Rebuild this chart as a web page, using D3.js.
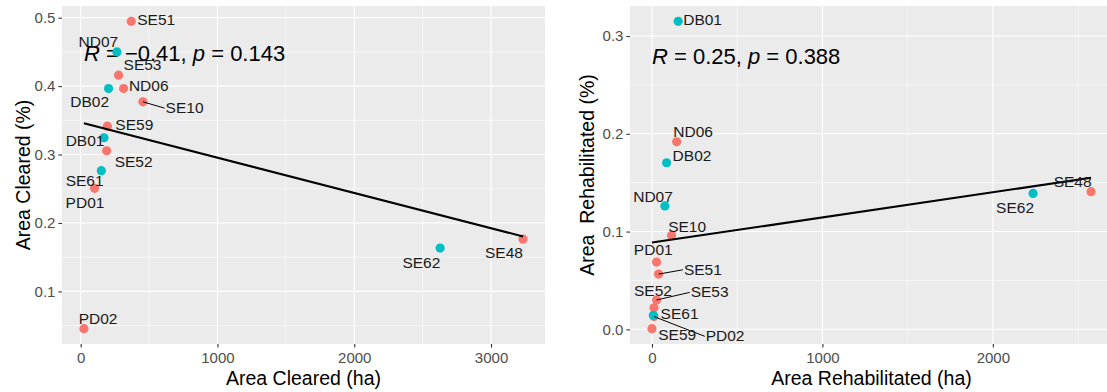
<!DOCTYPE html>
<html>
<head>
<meta charset="utf-8">
<script src="https://cdn.jsdelivr.net/npm/d3@7"></script>
<style>
  body { margin: 0; background: #fff; }
  svg { display: block; }
  text { font-family: "Liberation Sans", Arial, sans-serif; }
</style>
</head>
<body>
<svg id="chart" width="1107" height="392"></svg>
<script>
// ---- data -------------------------------------------------------------
const sites      = ["DB01","DB02","ND06","ND07","PD01","PD02","SE10","SE48","SE51","SE52","SE53","SE59","SE61","SE62"];
const siteGroup  = ["B",   "B",   "A",   "B",   "A",   "A",   "A",   "A",   "A",   "A",   "A",   "A",   "B",   "B"];

// area cleared: hectares and percent of site
const clearedHa  = [170, 204, 314, 265, 102, 24, 455, 3234, 370, 190, 277, 195, 151, 2628];
const clearedPct = [0.3245, 0.3965, 0.3965, 0.450, 0.2507, 0.0456, 0.377, 0.1764, 0.4946, 0.3055, 0.416, 0.3415, 0.2764, 0.1633];

// area rehabilitated: hectares and percent of site
const rehabHa    = [154, 86, 145, 76, 27, 12, 115, 2576, 39, 12, 27, 0, 8, 2236];
const rehabPct   = [0.315, 0.1704, 0.1918, 0.1262, 0.0688, 0.013, 0.0959, 0.1408, 0.0565, 0.022, 0.030, 0.0007, 0.0143, 0.139];

// axis breaks
const clearedXTicks = [0, 1000, 2000, 3000];
const clearedYTicks = [0.1, 0.2, 0.3, 0.4, 0.5];
const rehabXTicks   = [0, 1000, 2000];
const rehabYTicks   = [0.0, 0.1, 0.2, 0.3];

// correlation annotations
const clearedStats = { r: "\u22120.41", p: "0.143" };
const rehabStats   = { r: "0.25",       p: "0.388" };

// ---- label placement (pixel nudges from each point) --------------------
const clearedLabelNudge = {
  SE51: [6, 4], ND07: [-38.3, -5], SE53: [5, -4.7], ND06: [5.3, 2.4], DB02: [-38.3, 18.4],
  SE10: [22.7, 11.3], SE59: [8, 4], DB01: [-38.3, 8], SE52: [8, 16], SE61: [-35.7, 15.3],
  PD01: [-29, 19.4], PD02: [-5.3, -5], SE62: [-37.7, 20], SE48: [-38, 19]
};
const clearedSegments = ["SE10"];

const rehabLabelNudge = {
  DB01: [5, 3.3], ND06: [-3.4, -5], DB02: [6, -1.7], ND07: [-31.7, -4.3], SE10: [-3.4, -4],
  PD01: [-22.7, -7.3], SE51: [25.3, 0.7], SE52: [-20, -11.4], SE53: [34.1, -2.6],
  SE61: [7.3, 3.6], SE59: [6.3, 11.7], PD02: [51.7, 24.7], SE62: [-37, 20], SE48: [-37.4, -5]
};
const rehabSegments = ["SE51", "SE53", "PD02"];

// ---- styling -----------------------------------------------------------
const groupColour = { A: "#F8766D", B: "#00BFC4" };
const panelBg = "#EBEBEB";

const svg = d3.select("#chart");

function expandedExtent(values) {
  const [lo, hi] = d3.extent(values);
  const pad = (hi - lo) * 0.05;
  return [lo - pad, hi + pad];
}

function minorBreaks(major, domain) {
  const step = major[1] - major[0];
  const out = [];
  for (let i = -1; i < major.length; i++) {
    const v = (i < 0 ? major[0] - step : major[i]) + step / 2;
    if (v > domain[0] && v < domain[1]) out.push(v);
  }
  return out;
}

function drawPanel(cfg) {
  const { x0, x1, y0, y1, xs, ys, xTicks, yTicks, xFmt, yFmt,
          xTitle, yTitle, yTitleX, stats, statsY, nudge, segments } = cfg;

  const x = d3.scaleLinear().domain(expandedExtent(xs)).range([x0, x1]);
  const y = d3.scaleLinear().domain(expandedExtent(ys)).range([y1, y0]);

  const g = svg.append("g");

  // panel background
  g.append("rect")
    .attr("x", x0).attr("y", y0)
    .attr("width", x1 - x0).attr("height", y1 - y0)
    .attr("fill", panelBg);

  // minor grid
  const gx = minorBreaks(xTicks, x.domain());
  const gy = minorBreaks(yTicks, y.domain());
  g.selectAll(".vminor").data(gx).join("line")
    .attr("x1", d => x(d)).attr("x2", d => x(d))
    .attr("y1", y0).attr("y2", y1)
    .attr("stroke", "#fff").attr("stroke-width", 0.55);
  g.selectAll(".hminor").data(gy).join("line")
    .attr("y1", d => y(d)).attr("y2", d => y(d))
    .attr("x1", x0).attr("x2", x1)
    .attr("stroke", "#fff").attr("stroke-width", 0.55);

  // major grid
  g.selectAll(".vmajor").data(xTicks).join("line")
    .attr("x1", d => x(d)).attr("x2", d => x(d))
    .attr("y1", y0).attr("y2", y1)
    .attr("stroke", "#fff").attr("stroke-width", 1.1);
  g.selectAll(".hmajor").data(yTicks).join("line")
    .attr("y1", d => y(d)).attr("y2", d => y(d))
    .attr("x1", x0).attr("x2", x1)
    .attr("stroke", "#fff").attr("stroke-width", 1.1);

  // axes
  const ax = g.append("g").attr("transform", `translate(0,${y1})`)
    .call(d3.axisBottom(x).tickValues(xTicks).tickFormat(xFmt).tickSize(3.6).tickPadding(4.3));
  const ay = g.append("g").attr("transform", `translate(${x0},0)`)
    .call(d3.axisLeft(y).tickValues(yTicks).tickFormat(yFmt).tickSize(3.6).tickPadding(3));
  [ax, ay].forEach(a => {
    a.select(".domain").remove();
    a.selectAll(".tick line").attr("stroke", "#333333").attr("stroke-width", 1.1);
    a.selectAll(".tick text")
      .attr("fill", "#4D4D4D")
      .style("font-size", "15px")
      .style("font-family", '"Liberation Sans", Arial, sans-serif');
  });

  // axis titles
  g.append("text")
    .attr("x", (x0 + x1) / 2).attr("y", 384.5)
    .attr("text-anchor", "middle")
    .style("font-size", "19.5px").attr("fill", "#000")
    .text(xTitle);
  g.append("text")
    .attr("transform", `translate(${yTitleX},${(y0 + y1) / 2}) rotate(-90)`)
    .attr("text-anchor", "middle")
    .style("font-size", "19.5px").style("white-space", "pre").attr("fill", "#000")
    .text(yTitle);

  // correlation annotation, anchored at the smallest x value
  const st = g.append("text")
    .attr("x", x(d3.min(xs))).attr("y", statsY)
    .style("font-size", "22px").attr("fill", "#000")
    .style("white-space", "pre");
  st.append("tspan").style("font-style", "italic").text("R");
  st.append("tspan").text(` = ${stats.r}, `);
  st.append("tspan").style("font-style", "italic").text("p");
  st.append("tspan").text(` = ${stats.p}`);

  const rows = sites.map((s, i) => ({ site: s, grp: siteGroup[i], vx: xs[i], vy: ys[i] }));

  // points
  g.selectAll(".pt").data(rows).join("circle")
    .attr("cx", d => x(d.vx)).attr("cy", d => y(d.vy))
    .attr("r", 4.6)
    .attr("fill", d => groupColour[d.grp]);

  // least-squares fit over the observed x range
  const mx = d3.mean(xs), my = d3.mean(ys);
  const sxy = d3.sum(xs, (v, i) => (v - mx) * (ys[i] - my));
  const sxx = d3.sum(xs, v => (v - mx) * (v - mx));
  const slope = sxy / sxx, icpt = my - slope * mx;
  const [fx0, fx1] = d3.extent(xs);
  g.append("path")
    .datum([fx0, fx1])
    .attr("d", d3.line().x(d => x(d)).y(d => y(icpt + slope * d)))
    .attr("stroke", "#000").attr("stroke-width", 2.1).attr("fill", "none");

  // labels with leader segments where pushed away
  rows.forEach(d => {
    const px = x(d.vx), py = y(d.vy);
    const [dx, dy] = nudge[d.site];
    const lx = px + dx, ly = py + dy;
    if (segments.includes(d.site)) {
      g.append("line")
        .attr("x1", px).attr("y1", py)
        .attr("x2", lx - 1).attr("y2", ly - 5)
        .attr("stroke", "#000").attr("stroke-width", 1);
    }
    g.append("text")
      .attr("x", lx).attr("y", ly)
      .style("font-size", "15.5px").attr("fill", "#1a1a1a")
      .text(d.site);
  });
}

const fmtInt = d3.format("d");
const fmt1 = d3.format(".1f");

drawPanel({
  x0: 62, x1: 545, y0: 6, y1: 344,
  xs: clearedHa, ys: clearedPct,
  xTicks: clearedXTicks, yTicks: clearedYTicks, xFmt: fmtInt, yFmt: fmt1,
  xTitle: "Area Cleared (ha)", yTitle: "Area Cleared (%)", yTitleX: 30,
  stats: clearedStats, statsY: 61,
  nudge: clearedLabelNudge, segments: clearedSegments
});

drawPanel({
  x0: 630, x1: 1113, y0: 6, y1: 344,
  xs: rehabHa, ys: rehabPct,
  xTicks: rehabXTicks, yTicks: rehabYTicks, xFmt: fmtInt, yFmt: fmt1,
  xTitle: "Area Rehabilitated (ha)", yTitle: "Area  Rehabilitated (%)", yTitleX: 593.5,
  stats: rehabStats, statsY: 63.5,
  nudge: rehabLabelNudge, segments: rehabSegments
});
</script>
</body>
</html>
